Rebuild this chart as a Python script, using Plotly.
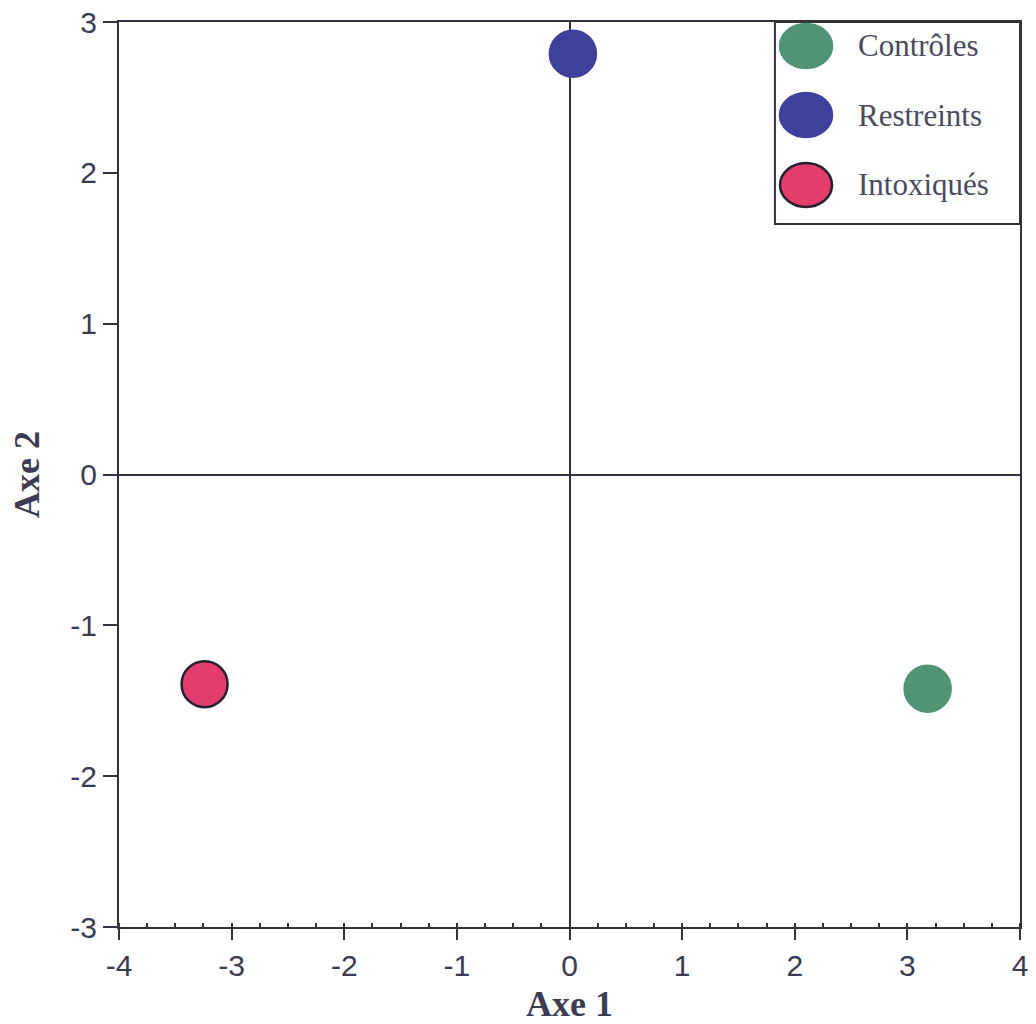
import plotly.graph_objects as go

groups = ["Contrôles", "Restreints", "Intoxiqués"]
axe1 = [3.18, 0.03, -3.24]
axe2 = [-1.42, 2.79, -1.39]
colors = ["#4f9474", "#3e409c", "#e23d6c"]
outlines = ["#4f9474", "#3e409c", "#2a2030"]
tick_vals_x = [-4, -3, -2, -1, 0, 1, 2, 3, 4]
tick_text_x = ["-4", "-3", "-2", "-1", "0", "1", "2", "3", "4"]
tick_vals_y = [-3, -2, -1, 0, 1, 2, 3]
tick_text_y = ["-3", "-2", "-1", "0", "1", "2", "3"]

fig = go.Figure()
for g, x, y, c, o in zip(groups, axe1, axe2, colors, outlines):
    fig.add_trace(go.Scatter(
        x=[x], y=[y], mode="markers", name=g, showlegend=False,
        marker=dict(size=46, color=c, line=dict(color=o, width=2.5)),
    ))

axis_col = "#333340"
tick_font = dict(family="Liberation Sans, Arial, sans-serif", size=30, color="#3b3b52")
title_font = dict(family="Liberation Serif, Times New Roman, serif", size=36, color="#3b3b52")

fig.update_xaxes(
    range=[-4, 4], tickvals=tick_vals_x, ticktext=tick_text_x, ticks="outside", ticklen=11, tickwidth=2,
    tickcolor=axis_col, showgrid=False, zeroline=True, zerolinecolor=axis_col,
    zerolinewidth=2, showline=True, linecolor=axis_col, linewidth=2, mirror=True,
    tickfont=tick_font, automargin=False, ticklabeloverflow="allow",
    title=dict(text="<b>Axe 1</b>", font=title_font, standoff=10),
    minor=dict(dtick=0.25, ticks="inside", ticklen=4, tickwidth=1.5, tickcolor=axis_col, showgrid=False),
)
fig.update_yaxes(
    range=[-3, 3], tickvals=tick_vals_y, ticktext=tick_text_y, ticks="outside", ticklen=14, tickwidth=2,
    tickcolor=axis_col, showgrid=False, zeroline=True, zerolinecolor=axis_col,
    zerolinewidth=2, showline=True, linecolor=axis_col, linewidth=2, mirror=True,
    tickfont=tick_font, automargin=False, ticklabeloverflow="allow",
    title=dict(text="<b>Axe 2</b>", font=title_font, standoff=20),
)

# Custom legend box (large symbols)
shapes = [dict(type="rect", xref="paper", yref="paper", x0=0.728, x1=1.0, y0=0.7768, y1=1.0,
               line=dict(color=axis_col, width=2), fillcolor="white", layer="above")]
annotations = []
leg_y = [0.9735, 0.8972, 0.8199]
for g, c, o, ly in zip(groups, colors, outlines, leg_y):
    shapes.append(dict(type="circle", xref="paper", yref="paper", xsizemode="pixel", ysizemode="pixel",
                       xanchor=0.7625, yanchor=ly, x0=-26, x1=26, y0=-22, y1=22,
                       fillcolor=c, line=dict(color=o, width=2.5), layer="above"))
    annotations.append(dict(xref="paper", yref="paper", x=0.818, y=ly, text=g, showarrow=False,
                            xanchor="left", yanchor="middle",
                            font=dict(family="Liberation Serif, Times New Roman, serif", size=31, color="#4a4a60")))

fig.update_layout(
    width=1036, height=1024,
    margin=dict(l=119, r=16, t=22, b=97, autoexpand=False),
    plot_bgcolor="white", paper_bgcolor="white",
    shapes=shapes, annotations=annotations,
    showlegend=False,
)

fig.write_html("out.html", config={"displayModeBar": False},
               post_script="document.body.style.margin='0';document.body.style.overflow='hidden';")
